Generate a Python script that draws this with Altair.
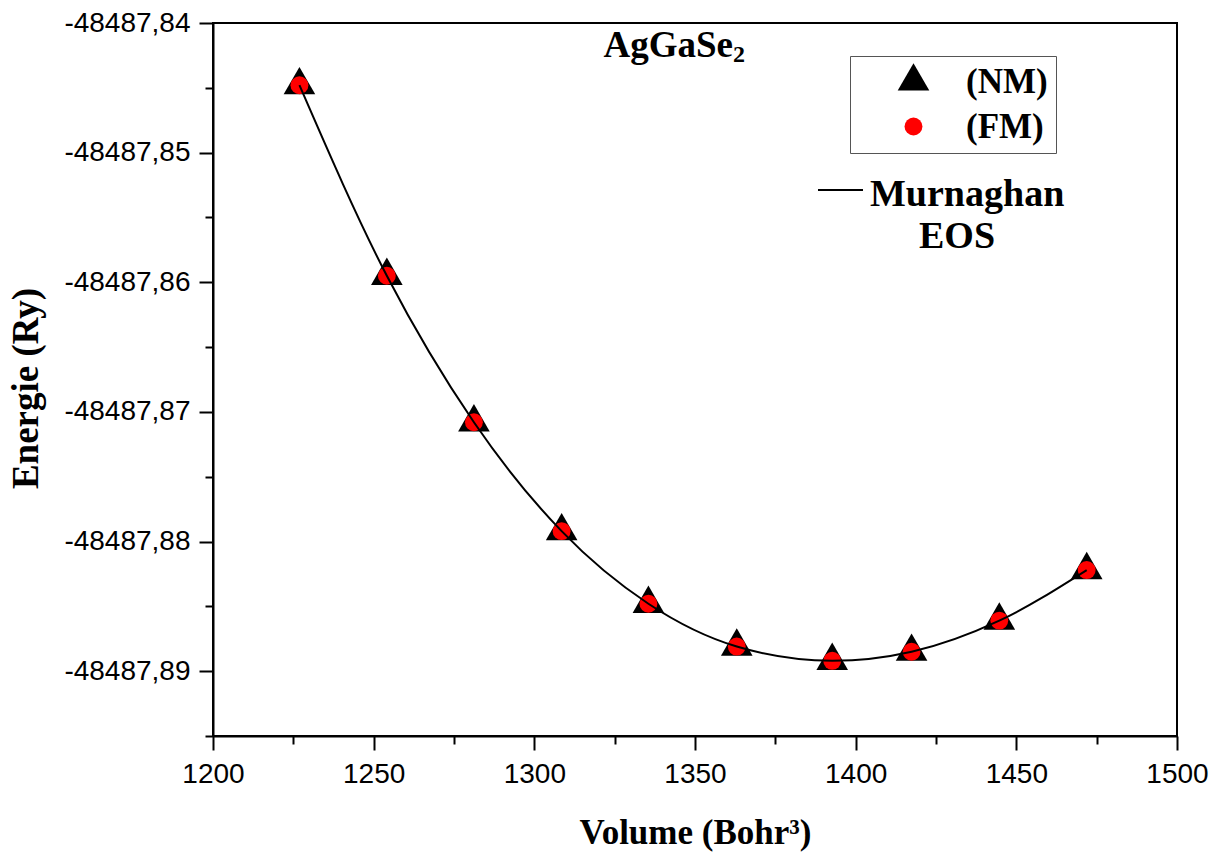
import altair as alt
import pandas as pd

# ---- data ----
volume = [1226.9, 1254.1, 1281.2, 1308.5, 1335.5, 1363.0, 1392.7, 1417.4, 1444.7, 1471.9]
energy_nm = [-48487.8448, -48487.8595, -48487.8708, -48487.8792, -48487.8848,
             -48487.8881, -48487.8892, -48487.8885, -48487.8861, -48487.8822]
energy_fm = [-48487.8448, -48487.8595, -48487.8708, -48487.8792, -48487.8848,
             -48487.8881, -48487.8892, -48487.8885, -48487.8861, -48487.8822]
series_names = ["(NM)", "(FM)"]
x_ticks = [1200, 1225, 1250, 1275, 1300, 1325, 1350, 1375, 1400, 1425, 1450, 1475, 1500]
y_ticks = [-48487.895, -48487.89, -48487.885, -48487.88, -48487.875, -48487.87,
           -48487.865, -48487.86, -48487.855, -48487.85, -48487.845, -48487.84]
compound = "AgGaSe"
compound_sub = "2"
fit_label_1 = "Murnaghan"
fit_label_2 = "EOS"

df = pd.DataFrame({
    "Volume": volume + volume,
    "Energie": energy_nm + energy_fm,
    "series": [series_names[0]] * len(volume) + [series_names[1]] * len(volume),
})
fm = pd.DataFrame({"Volume": volume, "Energie": energy_fm})

SERIF = "Liberation Serif"
SANS = "Liberation Sans"

# triangle centred on its centroid (like the original plotting program)
TRIANGLE = "M0,-1.155L1,0.577L-1,0.577Z"

x_scale = alt.Scale(domain=[1200, 1500], nice=False, zero=False)
y_scale = alt.Scale(domain=[-48487.895, -48487.84], nice=False, zero=False)

major_x = "datum.value % 50 == 0"
major_y = "abs(datum.value * 100 - round(datum.value * 100)) < 0.1"

x_axis = alt.Axis(
    values=x_ticks,
    labelExpr=f"({major_x}) ? format(datum.value, 'd') : ''",
    tickSize={"condition": {"test": major_x, "value": 14}, "value": 8},
    tickWidth=2, tickColor="black", domainColor="black", domainWidth=2,
    labelFont=SANS, labelFontSize=28, labelColor="black", labelPadding=10,
    labelFlush=False, labelOverlap=False, grid=False,
    title="Volume (Bohr\u00b3)", titleFont=SERIF, titleFontWeight="bold",
    titleFontSize=35, titleColor="black", titleBaseline="alphabetic",
    titleAlign="center", titleX=482, titleY=107,
)
y_axis = alt.Axis(
    values=y_ticks,
    labelExpr=(f"({major_y}) ? replace(replace(format(datum.value, '.2f'), '.', ','), '\u2212', '-') : ''"),
    tickSize={"condition": {"test": major_y, "value": 14}, "value": 8},
    tickWidth=2, tickColor="black", domainColor="black", domainWidth=2,
    labelFont=SANS, labelFontSize=28, labelColor="black", labelPadding=9,
    labelFlush=False, labelOverlap=False, grid=False,
    title="Energie (Ry)", titleFont=SERIF, titleFontWeight="bold",
    titleFontSize=37, titleColor="black", titleAngle=270,
    titleBaseline="alphabetic", titleAlign="center", titleX=-176, titleY=365,
)

legend = alt.Legend(
    title=None, orient="none", legendX=637, legendY=33, direction="vertical",
    strokeColor="#555555", padding=8,
    labelFont=SERIF, labelFontWeight="bold", labelFontSize=35, labelColor="black",
    labelExpr="datum.label + '\u2009\u2009\u2009'",
    symbolOffset=38, labelOffset=35, rowPadding=9, symbolStrokeWidth=0,
)

points = alt.Chart(df).mark_point(filled=True, opacity=1, strokeWidth=0).encode(
    x=alt.X("Volume:Q", scale=x_scale, axis=x_axis),
    y=alt.Y("Energie:Q", scale=y_scale, axis=y_axis),
    shape=alt.Shape("series:N", scale=alt.Scale(domain=series_names, range=[TRIANGLE, "circle"]), legend=legend),
    color=alt.Color("series:N", scale=alt.Scale(domain=series_names, range=["#000000", "#ff0000"]), legend=legend),
    size=alt.Size("series:N", scale=alt.Scale(domain=series_names, range=[1000, 320]), legend=legend),
)

curve = alt.Chart(fm).mark_line(color="black", strokeWidth=2, interpolate="monotone").encode(
    x=alt.X("Volume:Q", scale=x_scale),
    y=alt.Y("Energie:Q", scale=y_scale),
)

title_main = alt.Chart().mark_text(
    text=compound, font=SERIF, fontWeight="bold", fontSize=37, color="black",
    align="right", baseline="alphabetic",
).encode(x=alt.value(520), y=alt.value(34))
title_sub = alt.Chart().mark_text(
    text=compound_sub, font=SERIF, fontWeight="bold", fontSize=24, color="black",
    align="left", baseline="alphabetic",
).encode(x=alt.value(520), y=alt.value(39))

fit_line = alt.Chart().mark_rule(color="black", strokeWidth=2).encode(
    x=alt.value(605), x2=alt.value(650), y=alt.value(167)
)
fit_text1 = alt.Chart().mark_text(
    text=fit_label_1, font=SERIF, fontWeight="bold", fontSize=38, color="black",
    align="left", baseline="alphabetic",
).encode(x=alt.value(657), y=alt.value(183))
fit_text2 = alt.Chart().mark_text(
    text=fit_label_2, font=SERIF, fontWeight="bold", fontSize=38, color="black",
    align="center", baseline="alphabetic",
).encode(x=alt.value(744), y=alt.value(225))

chart = alt.layer(
    points, curve, title_main, title_sub, fit_line, fit_text1, fit_text2
).properties(
    width=964, height=713,
    autosize=alt.AutoSizeParams(type="none"),
    padding={"left": 213, "top": 23, "right": 44, "bottom": 116},
    background="white",
).configure_view(stroke="black", strokeWidth=2).configure_legend(strokeWidth=1)

chart.save("out.html", embed_options={"renderer": "svg", "actions": False})
